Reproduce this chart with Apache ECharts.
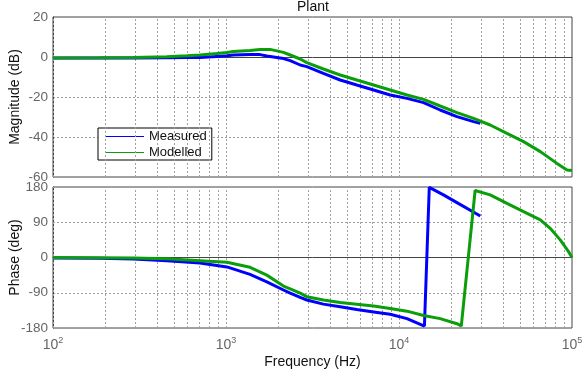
<!DOCTYPE html>
<html>
<head>
<meta charset="utf-8">
<script src="https://cdn.jsdelivr.net/npm/echarts@6/dist/echarts.min.js"></script>
<style>html,body{margin:0;padding:0;background:#fff}#c{width:583px;height:370px}</style>
</head>
<body>
<div id="c"></div>
<script>
// Measured magnitude (Hz, dB)
const measMag = [
  [100,-0.5],[187,-0.5],[291,-0.5],[455,-0.4],[593,-0.3],[708,-0.2],[885,0.3],[1012,0.6],
  [1104,1.0],[1377,1.3],[1574,1.2],[1722,0.5],[1799,0.3],[2148,-0.8],[2350,-1.8],[2685,-4.0],
  [2931,-4.8],[3656,-8.2],[4571,-11.5],[5702,-14],[7129,-16.5],[8892,-19],[11117,-20.7],
  [13868,-22.8],[17298,-26.5],[21627,-29.8],[26977,-32.3],[29512,-33.2]
];
// Modelled magnitude (Hz, dB)
const modMag = [
  [100,-0.5],[187,-0.4],[291,-0.2],[455,0.1],[593,0.6],[708,1.0],[885,1.7],[1012,2.3],
  [1104,2.7],[1377,3.3],[1574,3.8],[1799,3.8],[2148,2.3],[2350,1.0],[2685,-1.0],[2931,-2.8],
  [3656,-6],[4571,-9],[5702,-11.5],[7129,-14],[8892,-16.5],[11117,-19],[13868,-21.2],
  [17298,-24.5],[21627,-27.8],[26977,-30.7],[33651,-34],[42073,-38.2],[52481,-42.3],
  [65615,-47.3],[81846,-53.2],[93541,-56.5],[100000,-56.8]
];
// Measured phase (Hz, deg)
const measPh = [
  [100,-1],[187,-2],[291,-4],[455,-8],[708,-14],[1012,-24],[1377,-43],[1722,-62],[2148,-83],
  [2350,-91],[2685,-102],[2931,-108.5],[3656,-119],[4571,-126],[5702,-133],[7129,-139],
  [8892,-145],[11117,-156],[14028,-175],[14962,179],[18072,160],[21627,140],[29512,106]
];
// Modelled phase (Hz, deg)
const modPh = [
  [100,0],[291,-1],[455,-3],[708,-8],[1012,-12],[1377,-25],[1722,-45],[2148,-73],[2350,-80],
  [2685,-91],[2931,-100],[3656,-108.5],[4571,-115],[5702,-119.5],[7129,-124],[8892,-130],
  [11117,-137],[13868,-148],[17298,-156],[21627,-169],[22909,-175],[27542,171],[33651,160],
  [42073,138],[52481,117],[65615,96],[74817,74.5],[85500,45],[95500,15],[100000,0]
];
// Minor grid frequencies
const minorFreqs = [];
[100,1000,10000].forEach(d => { for (let k = 2; k <= 9; k++) minorFreqs.push(d*k); });
const decadeFreqs = [100,1000,10000,100000];

const titleText = 'Plant';
const legendNames = ['Measured','Modelled'];
const magTicks = {min:-60, max:20, interval:20};
const phTicks = {min:-180, max:180, interval:90};

const gridDash = {color:'#a0a0a0', type:[2,2], width:1};
const font = 'Liberation Sans, Arial, Helvetica, sans-serif';
const BLUE = '#0000ff', GREEN = '#0a9e0a';
const legendColors = [BLUE, GREEN];

const vLines = minorFreqs.concat(decadeFreqs).map(f => ({xAxis:f}));
function gridSeries(idx) {
  return {
    type:'line', xAxisIndex:idx, yAxisIndex:idx, data:[], silent:true,
    markLine:{silent:true, symbol:'none', label:{show:false}, animation:false,
      lineStyle:gridDash, data:vLines}
  };
}
function xAx(idx, showLabel) {
  return {
    type:'log', logBase:10, min:100, max:100000, gridIndex:idx,
    axisLine:{show:true, lineStyle:{color:'#444'}},
    axisTick:{show:false},
    splitLine:{show:false},
    axisLabel:{show:showLabel, margin:8, color:'#666', fontFamily:font, fontSize:14,
      formatter: v => '{b|10}{s|' + Math.round(Math.log10(v)) + '}',
      rich:{b:{fontSize:14, color:'#666', fontFamily:font},
            s:{fontSize:9, color:'#666', fontFamily:font, padding:[0,0,10,0]}}},
    name: showLabel ? 'Frequency (Hz)' : '', nameLocation:'middle', nameGap:27,
    nameMoveOverlap:false,
    nameTextStyle:{color:'#111', fontSize:14, fontFamily:font}
  };
}
function yAx(idx, t, name) {
  return {
    type:'value', gridIndex:idx, min:t.min, max:t.max, interval:t.interval,
    axisLine:{show:true, lineStyle:{color:'#444'}},
    axisTick:{show:false},
    splitLine:{show:true, lineStyle:gridDash},
    axisLabel:{color:'#666', fontFamily:font, fontSize:13.5, margin:5},
    name:name, nameLocation:'middle', nameGap:31, nameMoveOverlap:false,
    nameTextStyle:{color:'#111', fontSize:14, fontFamily:font}
  };
}
function line(name, data, idx, color) {
  return {name:name, type:'line', xAxisIndex:idx, yAxisIndex:idx, data:data,
    showSymbol:false, symbol:'none', lineStyle:{color:color, width:3}, itemStyle:{color:color},
    z:5, animation:false};
}

const chart = echarts.init(document.getElementById('c'), null, {renderer:'canvas'});
chart.setOption({
  animation:false,
  backgroundColor:'#fff',
  title:{text:titleText, left:297, top:0, padding:0, textStyle:{fontSize:14, fontWeight:'normal', color:'#111', fontFamily:font}},
  legend:{
    data:legendNames.map((n, i) => ({name:n, icon:'rect',
      itemStyle:{color:legendColors[i], borderWidth:0, borderColor:legendColors[i]}})),
    orient:'vertical', left:98, top:128, width:114,
    backgroundColor:'#fff', borderColor:'#000', borderWidth:1, padding:[1,5,0,8],
    itemWidth:38, itemHeight:1, itemGap:1,
    itemStyle:{borderWidth:0},
    textStyle:{fontSize:13, color:'#111', fontFamily:font, lineHeight:15}},
  grid:[
    {left:53, right:11, top:17, height:160, show:true, borderColor:'#444', borderWidth:1, backgroundColor:'transparent', containLabel:false, outerBoundsMode:'none'},
    {left:53, right:11, top:187, height:141, show:true, borderColor:'#444', borderWidth:1, backgroundColor:'transparent', containLabel:false, outerBoundsMode:'none'}
  ],
  xAxis:[xAx(0,false), xAx(1,true)],
  yAxis:[yAx(0, magTicks, 'Magnitude (dB)'), yAx(1, phTicks, 'Phase (deg)')],
  series:[
    gridSeries(0), gridSeries(1),
    line('Measured', measMag, 0, BLUE),
    line('Modelled', modMag, 0, GREEN),
    line('Measured', measPh, 1, BLUE),
    line('Modelled', modPh, 1, GREEN)
  ]
});
</script>
</body>
</html>
